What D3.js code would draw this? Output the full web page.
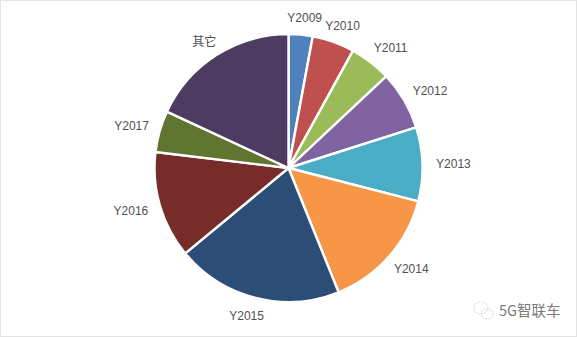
<!DOCTYPE html>
<html>
<head>
<meta charset="utf-8">
<script src="https://cdn.jsdelivr.net/npm/d3@7"></script>
<style>
    html, body { margin: 0; padding: 0; background: #fff; overflow: hidden; }
    svg { display: block; }
    .etiqueta { font-family: "Liberation Sans", sans-serif; font-size: 12px; fill: #505050; }
    .marca { font-family: "Noto Sans CJK SC", sans-serif; font-size: 14.5px; fill: #7a7a7a; }
</style>
</head>
<body>
<div id="chart"></div>
<script>
const categorias = ['Y2009', 'Y2010', 'Y2011', 'Y2012', 'Y2013', 'Y2014', 'Y2015', 'Y2016', 'Y2017', '其它'];
const valores = [2.9, 5.1, 5.0, 7.1, 8.9, 14.9, 20.1, 12.9, 5.0, 18.1];
const colores = ['#4f81bd', '#c0504d', '#9bbb59', '#8064a2', '#4bacc6', '#f79646', '#2c4d75', '#772c2a', '#5f7530', '#4d3b62'];

// ajuste a mano de cada etiqueta respecto al borde de su sector
const ajusteEtiquetas = [[4, -17], [9, -16], [20, -14], [26, -9], [31, 0], [22, 13], [-9, 18], [-29, 5], [-28, -6], [-12, -13]];

const ancho = 577, alto = 337;
const centroX = 288.5, centroY = 168, radio = 134;

const lienzo = d3.select('#chart').append('svg')
    .attr('width', ancho)
    .attr('height', alto);

lienzo.append('rect')
    .attr('x', 0).attr('y', 0)
    .attr('width', ancho).attr('height', alto)
    .attr('fill', '#fff');

// marco gris de la captura
lienzo.append('rect')
    .attr('x', 0.5).attr('y', 0.5)
    .attr('width', ancho - 1).attr('height', alto - 1)
    .attr('fill', 'none')
    .attr('stroke', '#e4e4e4');

const grupoPastel = lienzo.append('g')
    .attr('transform', `translate(${centroX},${centroY})`);

const pastel = d3.pie().sort(null).value(d => d);
const sectores = pastel(valores);

const arco = d3.arc().innerRadius(0).outerRadius(radio);
const arcoBorde = d3.arc().innerRadius(radio).outerRadius(radio);

grupoPastel.selectAll('.sector')
    .data(sectores)
    .enter().append('path')
    .attr('class', 'sector')
    .attr('d', arco)
    .attr('fill', (d, i) => colores[i])
    .attr('stroke', '#fff')
    .attr('stroke-width', 2.4)
    .attr('stroke-linejoin', 'round');

grupoPastel.selectAll('.etiqueta')
    .data(sectores)
    .enter().append('text')
    .attr('class', 'etiqueta')
    .attr('text-anchor', 'middle')
    .attr('dy', '.35em')
    .attr('x', (d, i) => arcoBorde.centroid(d)[0] + ajusteEtiquetas[i][0])
    .attr('y', (d, i) => arcoBorde.centroid(d)[1] + ajusteEtiquetas[i][1])
    .style('font-family', (d, i) => i === 9 ? '"Noto Sans CJK SC", sans-serif' : null)
    .text((d, i) => categorias[i]);

// marca de agua
const grupoMarca = lienzo.append('g');
grupoMarca.append('text')
    .attr('class', 'marca')
    .attr('x', 499)
    .attr('y', 316)
    .text('5G智联车');

const icono = grupoMarca.append('g')
    .attr('fill', 'none')
    .attr('stroke', '#b5b5b5')
    .attr('stroke-width', 0.8)
    .attr('stroke-dasharray', '1.2 1.6');
icono.append('ellipse').attr('cx', 481).attr('cy', 308).attr('rx', 7).attr('ry', 6);
icono.append('ellipse').attr('cx', 487).attr('cy', 314).attr('rx', 6).attr('ry', 5);
</script>
</body>
</html>
